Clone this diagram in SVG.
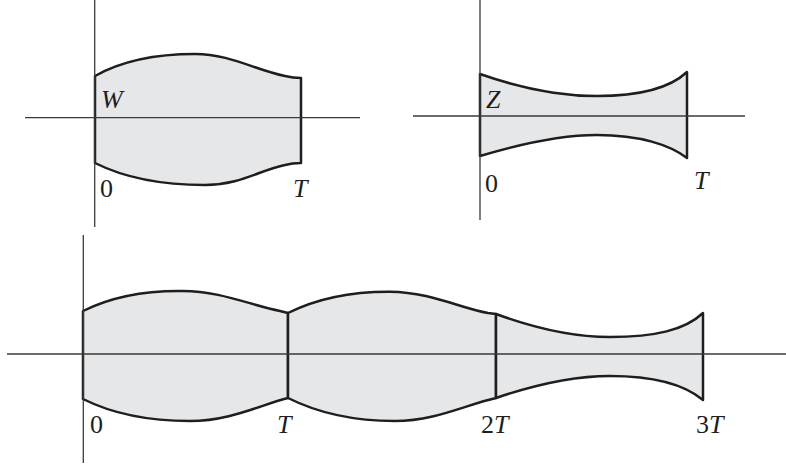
<svg xmlns="http://www.w3.org/2000/svg" width="786" height="469" viewBox="0 0 786 469">
<style>
.shape{fill:#e6e7e9;stroke:#1e1e1e;stroke-width:2.5;stroke-linejoin:round}
.axis{stroke:#3a3a3a;stroke-width:1.3;fill:none}
.lbl{font-family:'Liberation Serif',serif;font-size:26px;fill:#1e1e1e}
.it{font-style:italic}
</style>
<rect width="786" height="469" fill="#ffffff"/>
<g id="panel-W">
<path class="shape" d="M95,76 C125,59 160,54 195,54 C230,54 255,70 285,76 Q293,78 301,78 L301,163 Q292,163 285,165 C260,170 240,185 205,185 C165,185 125,178 95,163 Z"/>
<text class="lbl it" x="101" y="108">W</text>
<text class="lbl" x="100" y="197">0</text>
<text class="lbl it" x="293" y="197">T</text>
</g>
<g id="panel-Z">
<path class="shape" d="M480,74 C520,88 560,96 597,96 C640,96 670,88 687,72 L687,158 C670,145 640,135 597,135 C560,135 520,144 480,156 Z"/>
<text class="lbl it" x="486" y="108">Z</text>
<text class="lbl" x="485" y="192">0</text>
<text class="lbl it" x="694" y="189">T</text>
</g>
<g id="panel-3T">
<path class="shape" d="M83,311 C115,295 150,290.5 183,291 C220,291 250,305 280,311 L288,313 L288,398 C260,405 230,421 190,421 C150,421 115,415 83,399 Z"/>
<path class="shape" d="M288,313 C320,297 355,291.5 390,291.7 C430,292 460,308 488,313 L496,314 L496,398 C465,405 435,421 395,421 C355,421 320,414 288,398 Z"/>
<path class="shape" d="M496,314 C540,330 575,337 610,337 C655,337 685,330 703,313 L703,400 C685,385 655,376 610,376 C575,376 540,383 496,398 Z"/>
<text class="lbl" x="90" y="433">0</text>
<text class="lbl it" x="277" y="433">T</text>
<text class="lbl" x="481" y="433">2<tspan class="it">T</tspan></text>
<text class="lbl" x="696" y="433">3<tspan class="it">T</tspan></text>
</g>
<g id="connectors">
<line class="axis" x1="94.7" y1="0" x2="94.7" y2="227"/>
<line class="axis" x1="25" y1="117.7" x2="360" y2="117.7"/>
<line class="axis" x1="480" y1="0" x2="480" y2="220"/>
<line class="axis" x1="413" y1="116" x2="745" y2="116"/>
<line class="axis" x1="83.3" y1="235" x2="83.3" y2="463"/>
<line class="axis" x1="7" y1="354" x2="786" y2="354"/>
</g>
</svg>
